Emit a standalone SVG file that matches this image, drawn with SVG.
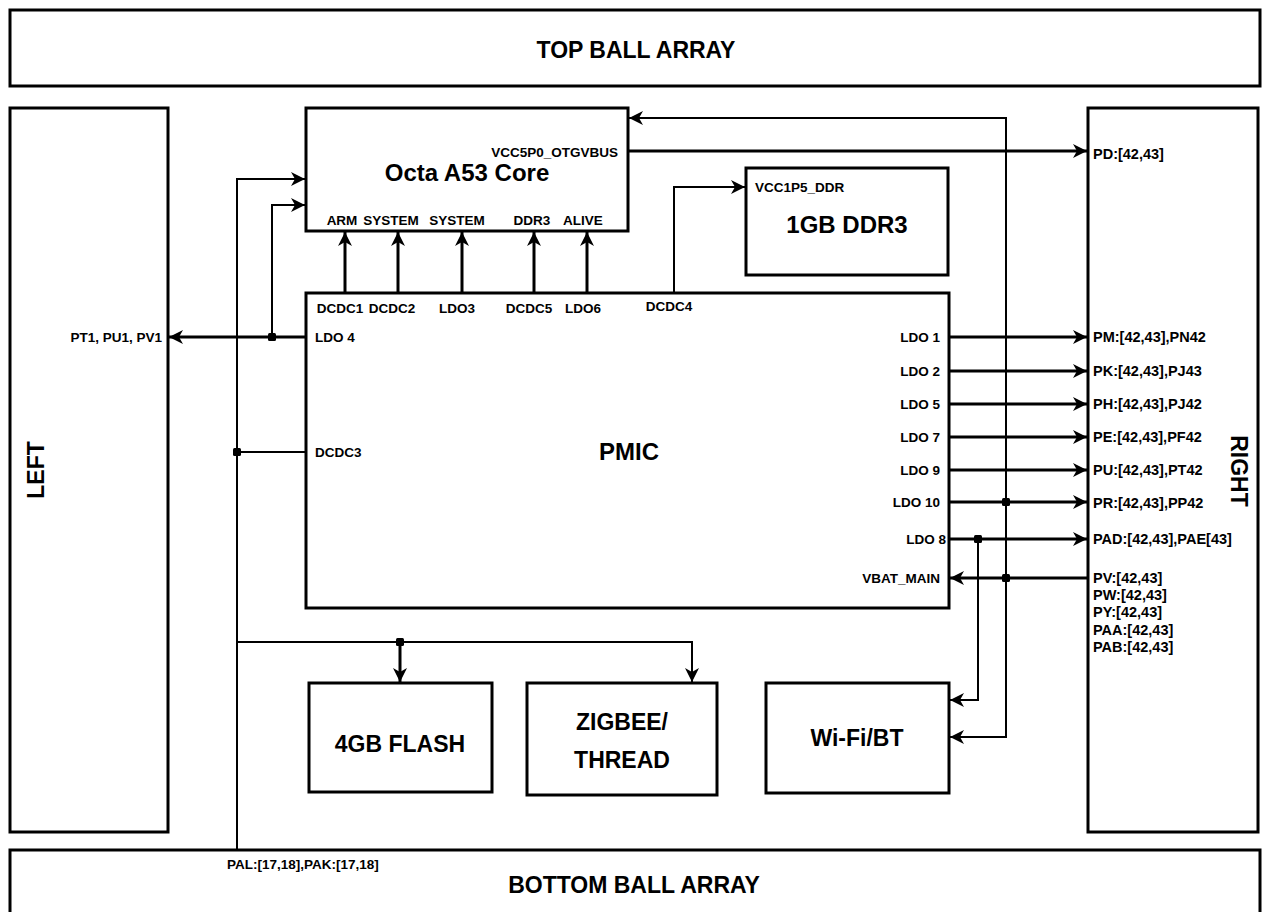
<svg xmlns="http://www.w3.org/2000/svg" width="1262" height="912" viewBox="0 0 1262 912">
<style>
.box{fill:#fff;stroke:#000;stroke-width:3}
.ln{fill:none;stroke:#000;stroke-width:3}
.thin{fill:none;stroke:#000;stroke-width:2}
.t{font-family:"Liberation Sans",Arial,sans-serif;font-weight:bold;fill:#000}
.s{font-size:13.5px}
.r{font-size:14.5px}
.b{font-size:23px}
.e{text-anchor:end}
.m{text-anchor:middle}
.dot{fill:#000}
</style>
<defs>
<marker id="ah" markerUnits="userSpaceOnUse" markerWidth="16" markerHeight="16" refX="14" refY="8" orient="auto">
<path d="M0,1 L14,8 L0,15 L4,8 z" fill="#000"/>
</marker>
</defs>

<g id="top-ball-array">
<rect class="box" x="10" y="10" width="1250" height="76"/>
<text class="t b m" x="636" y="58">TOP BALL ARRAY</text>
</g>
<g id="left">
<rect class="box" x="10" y="108" width="158" height="724"/>
<text class="t m" font-size="23" transform="translate(44,470) rotate(-90)">LEFT</text>
<text class="t s e" x="162" y="342">PT1, PU1, PV1</text>
</g>
<g id="right">
<rect class="box" x="1088" y="108" width="170" height="724"/>
<text class="t m" font-size="23" transform="translate(1231,471) rotate(90)">RIGHT</text>
<text class="t r" x="1093" y="159">PD:[42,43]</text>
<text class="t r" x="1093" y="342">PM:[42,43],PN42</text>
<text class="t r" x="1093" y="376">PK:[42,43],PJ43</text>
<text class="t r" x="1093" y="409">PH:[42,43],PJ42</text>
<text class="t r" x="1093" y="442">PE:[42,43],PF42</text>
<text class="t r" x="1093" y="475">PU:[42,43],PT42</text>
<text class="t r" x="1093" y="508">PR:[42,43],PP42</text>
<text class="t r" x="1093" y="544">PAD:[42,43],PAE[43]</text>
<text class="t r" x="1093" y="583">PV:[42,43]</text>
<text class="t r" x="1093" y="600">PW:[42,43]</text>
<text class="t r" x="1093" y="617">PY:[42,43]</text>
<text class="t r" x="1093" y="635">PAA:[42,43]</text>
<text class="t r" x="1093" y="652">PAB:[42,43]</text>
</g>
<g id="bottom-ball-array">
<rect class="box" x="10" y="850" width="1250" height="90"/>
<text class="t b m" x="634" y="893">BOTTOM BALL ARRAY</text>
<text class="t s" x="227" y="869">PAL:[17,18],PAK:[17,18]</text>
</g>
<g id="octa-a53-core">
<rect class="box" x="306" y="108" width="322" height="123"/>
<text class="t m" font-size="24" x="467" y="181">Octa A53 Core</text>
<text class="t s e" x="618" y="157">VCC5P0_OTGVBUS</text>
<text class="t s m" x="342" y="225">ARM</text>
<text class="t s m" x="391" y="225">SYSTEM</text>
<text class="t s m" x="457" y="225">SYSTEM</text>
<text class="t s m" x="532" y="225">DDR3</text>
<text class="t s m" x="583" y="225">ALIVE</text>
</g>
<g id="ddr3">
<rect class="box" x="746" y="168" width="202" height="107"/>
<text class="t s" x="755" y="192">VCC1P5_DDR</text>
<text class="t m" font-size="24" x="847" y="233">1GB DDR3</text>
</g>
<g id="pmic">
<rect class="box" x="306" y="293" width="643" height="315"/>
<text class="t m" font-size="24" x="629" y="460">PMIC</text>
<text class="t s m" x="340" y="313">DCDC1</text>
<text class="t s m" x="392" y="313">DCDC2</text>
<text class="t s m" x="457" y="313">LDO3</text>
<text class="t s m" x="529" y="313">DCDC5</text>
<text class="t s m" x="583" y="313">LDO6</text>
<text class="t s m" x="669" y="311">DCDC4</text>
<text class="t s" x="315" y="342">LDO 4</text>
<text class="t s" x="315" y="457">DCDC3</text>
<text class="t s e" x="940" y="342">LDO 1</text>
<text class="t s e" x="940" y="376">LDO 2</text>
<text class="t s e" x="940" y="409">LDO 5</text>
<text class="t s e" x="940" y="442">LDO 7</text>
<text class="t s e" x="940" y="475">LDO 9</text>
<text class="t s e" x="940" y="507">LDO 10</text>
<text class="t s e" x="946" y="544">LDO 8</text>
<text class="t s e" x="940" y="583">VBAT_MAIN</text>
</g>
<g id="flash">
<rect class="box" x="309" y="683" width="183" height="109"/>
<text class="t m" font-size="23" x="400" y="752">4GB FLASH</text>
</g>
<g id="zigbee-thread">
<rect class="box" x="527" y="683" width="190" height="112"/>
<text class="t m" font-size="23" x="622" y="730">ZIGBEE/</text>
<text class="t m" font-size="23" x="622" y="768">THREAD</text>
</g>
<g id="wifi-bt">
<rect class="box" x="766" y="683" width="183" height="110"/>
<text class="t m" font-size="23" x="857" y="746">Wi-Fi/BT</text>
</g>

<g id="connectors">
<path class="ln" d="M345,293 V232" marker-end="url(#ah)"/>
<path class="ln" d="M398,293 V232" marker-end="url(#ah)"/>
<path class="ln" d="M462,293 V232" marker-end="url(#ah)"/>
<path class="ln" d="M534,293 V232" marker-end="url(#ah)"/>
<path class="ln" d="M587,293 V232" marker-end="url(#ah)"/>
<path class="thin" d="M674,293 V187 H745" marker-end="url(#ah)"/>
<path class="ln" d="M628,151 H1087" marker-end="url(#ah)"/>
<path class="ln" d="M306,337 H169" marker-end="url(#ah)"/>
<path class="thin" d="M272,337 V205 H305" marker-end="url(#ah)"/>
<path class="thin" d="M237,850 V179 H305" marker-end="url(#ah)"/>
<path class="thin" d="M306,452 H237"/>
<path class="thin" d="M237,642 H692 V682" marker-end="url(#ah)"/>
<path class="ln" d="M400,642 V682" marker-end="url(#ah)"/>
<path class="ln" d="M949,337 H1087" marker-end="url(#ah)"/>
<path class="ln" d="M949,371 H1087" marker-end="url(#ah)"/>
<path class="ln" d="M949,404 H1087" marker-end="url(#ah)"/>
<path class="ln" d="M949,437 H1087" marker-end="url(#ah)"/>
<path class="ln" d="M949,470 H1087" marker-end="url(#ah)"/>
<path class="ln" d="M949,502 H1087" marker-end="url(#ah)"/>
<path class="ln" d="M949,539 H1087" marker-end="url(#ah)"/>
<path class="ln" d="M1088,578 H950" marker-end="url(#ah)"/>
<path class="thin" d="M1006,502 V118 H629" marker-end="url(#ah)"/>
<path class="thin" d="M1006,502 V737 H950" marker-end="url(#ah)"/>
<path class="thin" d="M978,539 V700 H950" marker-end="url(#ah)"/>
<rect class="dot" x="268" y="333" width="8" height="8" rx="1.5"/>
<rect class="dot" x="233" y="448" width="8" height="8" rx="1.5"/>
<rect class="dot" x="396" y="638" width="8" height="8" rx="1.5"/>
<rect class="dot" x="1002" y="498" width="8" height="8" rx="1.5"/>
<rect class="dot" x="974" y="535" width="8" height="8" rx="1.5"/>
<rect class="dot" x="1002" y="574" width="8" height="8" rx="1.5"/>
</g>
</svg>
